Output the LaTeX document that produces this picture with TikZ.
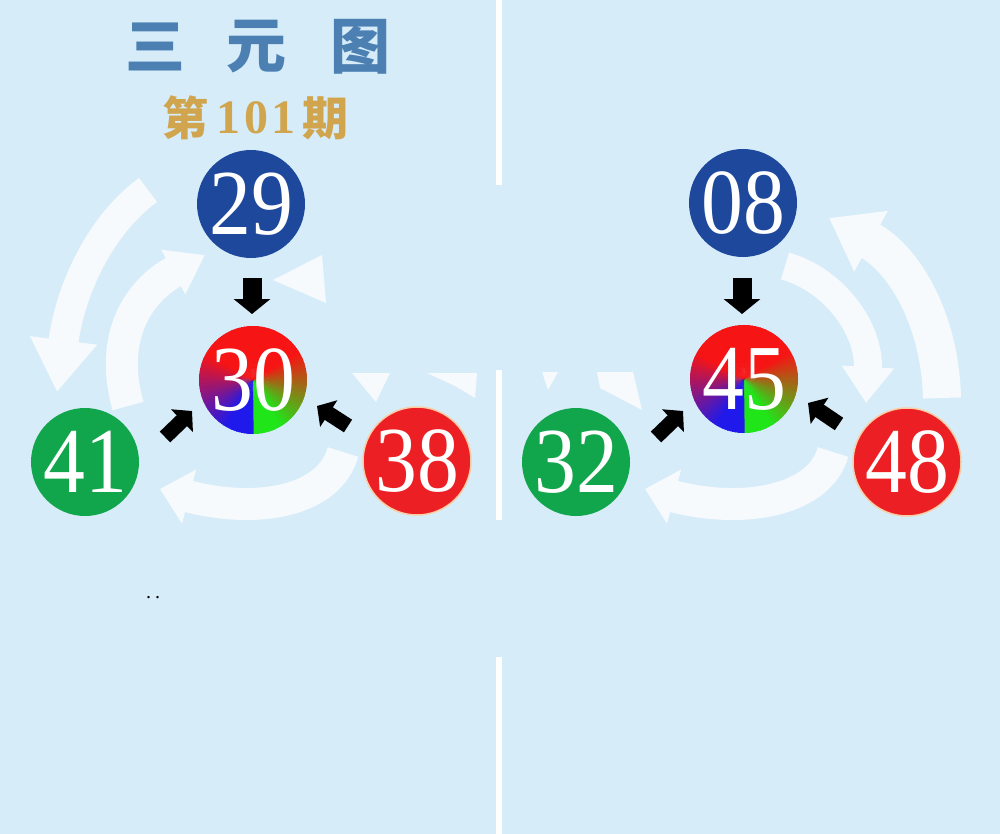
\documentclass[tikz,border=0pt]{standalone}
\usepackage{fontspec}
\setmainfont{Liberation Serif}
\newfontfamily\cjk{Noto Sans CJK SC}
\usetikzlibrary{arrows.meta,calc}
\definecolor{bg}{RGB}{214,236,249}
\definecolor{wcol}{RGB}{246,250,253}
\definecolor{cblue}{RGB}{30,72,156}
\definecolor{cgreen}{RGB}{18,166,76}
\definecolor{cred}{RGB}{236,32,36}
\definecolor{credb}{RGB}{250,205,165}
\definecolor{ttlblue}{RGB}{76,128,178}
\definecolor{gold}{RGB}{208,165,78}
\newcommand{\num}[1]{\scalebox{0.9}[1]{#1}}
\tikzset{
  ball/.style={circle, minimum size=108pt, inner sep=0pt, text=white, font={\fontsize{93}{93}\selectfont}},
  blueball/.style={ball, fill=cblue},
  greenball/.style={ball, fill=cgreen},
  redball/.style={ball, fill=cred, draw=credb, line width=1.5pt},
  blk/.style={draw=black, line width=19pt, -{Triangle[width=36pt,length=15pt]}},
  blks/.style={draw=black, line width=15pt, -{Triangle[width=31pt,length=14pt]}},
  wband/.style={draw=wcol, line width=#1},
  wpiece/.style={fill=wcol},
  ttl/.style={font={\cjk\bfseries\fontsize{60}{60}\selectfont}, text=ttlblue},
  qi/.style={font={\cjk\bfseries\fontsize{46}{46}\selectfont}, text=gold},
  qd/.style={font={\bfseries\fontsize{48}{48}\selectfont}, text=gold},
}
\newcommand{\rainbowdisk}[1]{%
  \begin{scope}
    \clip (#1) circle[radius=54pt];
    \foreach \a in {0,3,...,357} {
      \pgfmathsetmacro\m{\a+1.5}
      \pgfmathsetmacro\wr{\m<60 ? 1 : (\m<150 ? (150-\m)/90 : (\m<210 ? 0 : (\m<300 ? (\m-210)/90 : 1)))}
      \pgfmathsetmacro\wg{(\m>=60 && \m<150) ? (\m-60)/90 : ((\m>=150 && \m<180) ? 1 : 0)}
      \pgfmathsetmacro\wb{(\m>=180 && \m<210) ? 1 : ((\m>=210 && \m<300) ? (300-\m)/90 : 0)}
      \pgfmathsetmacro\cr{0.97*\wr+0.12*\wg+0.12*\wb}
      \pgfmathsetmacro\cg{0.08*\wr+0.90*\wg+0.10*\wb}
      \pgfmathsetmacro\cb{0.08*\wr+0.10*\wg+0.92*\wb}
      \definecolor{wc}{rgb}{\cr,\cg,\cb}
      \begin{scope}[shift={(#1)}]
        \fill[wc] (0,0) -- (90-\a+0.7:60pt) -- (90-\a-3.7:60pt) -- cycle;
      \end{scope}
    }
  \end{scope}}
\begin{document}
\begin{tikzpicture}[x=1pt,y=-1pt]
\fill[bg] (0,0) rectangle (1000,834);
\useasboundingbox (0,0) rectangle (1000,834);
% divider
\fill[white] (496,0) rectangle (502,185);
\fill[white] (496,370) rectangle (502,520);
\fill[white] (496,657) rectangle (502,834);

% title
\node[ttl] (t1) at (155,47) {三};
\node[ttl] (t2) at (256,47) {元};
\node[ttl] (t3) at (360,47) {图};
\node[qi] (q1) at (185,118) {第};
\node[qd] (q2) at (228,118) {1};
\node[qd] (q3) at (256,118) {0};
\node[qd] (q4) at (283,118) {1};
\node[qi] (q5) at (325,118) {期};

% coordinates for white curved arrows (left)
\coordinate (a1s) at (148,190);
\coordinate (a1e) at (57,392);
\coordinate (a2s) at (128,406);
\coordinate (a2e) at (205,255);
\coordinate (a4s) at (343,452);
\coordinate (a4e) at (160,489);
% right
\coordinate (b1s) at (942,398);
\coordinate (b1e) at (829,218);
\coordinate (b2s) at (785,266);
\coordinate (b2e) at (866,403);
\coordinate (b3s) at (833,452);
\coordinate (b3e) at (645,489);

% white arrows left
\draw[wband=30pt, -{Triangle[width=64pt,length=52pt]}] (a1s) .. controls (100,225) and (70,290) .. (a1e);
\draw[wband=32pt, -{Triangle[width=48pt,length=36pt]}] (a2s) .. controls (108,335) and (140,290) .. (a2e);
\draw[wband=32pt, -{Triangle[width=54pt,length=30pt]}] (a4s) .. controls (330,500) and (260,515) .. (a4e);
\fill[wpiece] (273,280) -- (322,255) -- (326,303) -- cycle;
\fill[wpiece] (352,373) -- (390,373) -- (376,402) -- cycle;
\fill[wpiece] (427,373) -- (477,373) -- (475,398) -- (455,386) -- cycle;
% white arrows right
\draw[wband=38pt, -{Triangle[width=66pt,length=48pt]}] (b1s) .. controls (940,320) and (905,260) .. (b1e);
\draw[wband=28pt, -{Triangle[width=50pt,length=36pt]}] (b2s) .. controls (835,280) and (870,330) .. (b2e);
\draw[wband=32pt, -{Triangle[width=54pt,length=30pt]}] (b3s) .. controls (820,500) and (745,515) .. (b3e);
\fill[wpiece] (542,372) -- (558,372) -- (548,390) -- cycle;
\fill[wpiece] (597,372) -- (633,372) -- (642,410) -- (600,388) -- cycle;

% balls left
\node[blueball] (n29) at (251,204) {\num{29}};
\node[greenball] (n41) at (85,462) {\num{41}};
\node[redball] (n38) at (417,461) {\num{38}};
\coordinate (p30) at (253,380);
\rainbowdisk{p30}
\node[ball] (n30) at (p30) {\num{30}};
% balls right
\node[blueball] (n08) at (743,203) {\num{08}};
\node[greenball] (n32) at (576,462) {\num{32}};
\node[redball] (n48) at (907,462) {\num{48}};
\coordinate (p45) at (744,379);
\rainbowdisk{p45}
\node[ball] (n45) at (p45) {\num{45}};

% black arrows left
\coordinate (k1s) at (252,278); \coordinate (k1e) at (252,314);
\coordinate (k2s) at (165,437); \coordinate (k2e) at (192,411);
\coordinate (k3s) at (348,426); \coordinate (k3e) at (317,406);
\draw[blk] (k1s) -- (k1e);
\draw[blks] (k2s) -- (k2e);
\draw[blks] (k3s) -- (k3e);
% black arrows right
\coordinate (m1s) at (742,278); \coordinate (m1e) at (742,314);
\coordinate (m2s) at (656,437); \coordinate (m2e) at (683,411);
\coordinate (m3s) at (839,424); \coordinate (m3e) at (808,403);
\draw[blk] (m1s) -- (m1e);
\draw[blks] (m2s) -- (m2e);
\draw[blks] (m3s) -- (m3e);

% dots
\node[font={\fontsize{20}{20}\selectfont}] (dots) at (153,598) {.\hspace{4pt}.};
\end{tikzpicture}
\end{document}
